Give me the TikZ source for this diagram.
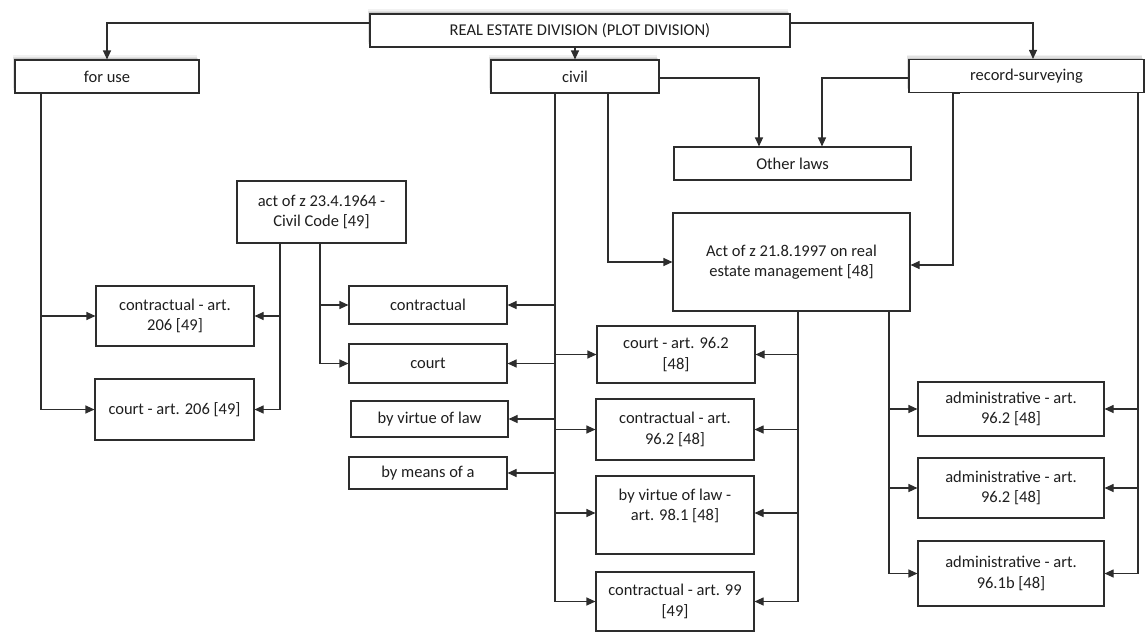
\documentclass[tikz,border=0pt]{standalone}
\usepackage{fontspec}
\setmainfont{Carlito}
\usetikzlibrary{arrows.meta,shadows,calc}
\definecolor{lncol}{RGB}{45,45,45}
\definecolor{txcol}{RGB}{30,30,30}
\begin{document}
\begin{tikzpicture}[x=1pt,y=-1pt,
  box/.style={draw=lncol, line width=1.1pt, fill=white, text=txcol, align=center, inner sep=0pt,
    font=\fontsize{16.5}{20.5}\selectfont},
  sh/.style={drop shadow={shadow xshift=-2.5pt,shadow yshift=5pt,opacity=.05,fill=black},
             drop shadow={shadow xshift=-1.8pt,shadow yshift=3.5pt,opacity=.07,fill=black},
             drop shadow={shadow xshift=-1pt,shadow yshift=2pt,opacity=.10,fill=black}},
  arr/.style={draw=lncol, line width=1.1pt, -{Triangle[length=9pt,width=8pt]}},
  wire/.style={draw=lncol, line width=1.1pt}]
\useasboundingbox (0,0) rectangle (1145,632);

% top level
\node[box,sh,minimum width=420pt,minimum height=33pt] (top) at (580,30.5) {REAL ESTATE DIVISION (PLOT DIVISION)};
\node[box,sh,minimum width=184pt,minimum height=33pt] (foruse) at (107,76.5) {for use};
\node[box,sh,minimum width=168pt,minimum height=33pt] (civil) at (575,76.5) {civil};
\node[box,sh,minimum width=235pt,minimum height=33pt] (record) at (1026.5,76) {record-surveying};

% laws
\node[box,minimum width=237pt,minimum height=33pt] (otherlaws) at (792.5,163.5) {Other laws};
\node[box,minimum width=169pt,minimum height=62pt] (civilcode) at (321.5,212) {act of z 23.4.1964 -\\Civil Code [49]};
\node[box,minimum width=237pt,minimum height=98pt] (act97) at (791.5,262) {Act of z 21.8.1997 on real\\estate management [48]};

% left column
\node[box,minimum width=158pt,minimum height=60pt] (c206) at (175,316) {contractual - art.\\206 [49]};
\node[box,minimum width=159pt,minimum height=61pt] (court206) at (174.5,409.5) {court - art. 206 [49]};

% civil code column
\node[box,minimum width=158pt,minimum height=38pt] (contractual) at (428,305) {contractual};
\node[box,minimum width=158pt,minimum height=39pt] (court) at (428,363.5) {court};
\node[box,minimum width=157pt,minimum height=36pt] (byvirtue) at (429.5,419) {by virtue of law};
\node[box,minimum width=158pt,minimum height=32pt] (bymeans) at (428,473) {by means of a};

% act 1997 column
\node[box,minimum width=158pt,minimum height=57pt] (court962) at (676,354.5) {court - art. 96.2\\{[48]}};
\node[box,minimum width=158pt,minimum height=61pt] (contr962) at (675,429.5) {contractual - art.\\96.2 [48]};
\node[box,minimum width=158pt,minimum height=78pt] (byv981) at (675,515) {by virtue of law -\\art. 98.1 [48]\\\mbox{}};
\node[box,minimum width=158pt,minimum height=59pt] (contr99) at (675,601.5) {contractual - art. 99\\{[49]}};

% administrative column
\node[box,minimum width=186pt,minimum height=54pt] (admin1) at (1011,409) {administrative - art.\\96.2 [48]};
\node[box,minimum width=186pt,minimum height=60pt] (admin2) at (1011,488) {administrative - art.\\96.2 [48]};
\node[box,minimum width=186pt,minimum height=65pt] (admin3) at (1011,573.5) {administrative - art.\\96.1b [48]};

% top connectors
\draw[arr] ([yshift=7.5pt]top.west) -| (foruse.north);
\draw[arr] (civil.north |- top.south) -- (civil.north);
\draw[arr] ([yshift=7.5pt]top.east) -| ([xshift=6.5pt]record.north);
\draw[arr] ([yshift=-1.5pt]civil.east) -| ([xshift=-33.5pt]otherlaws.north);
\draw[arr] ([yshift=-2pt]record.west) -| ([xshift=29.5pt]otherlaws.north);
\draw[arr] ([xshift=33pt]civil.south) |- (act97.west);
\draw[wire] ([xshift=-73.5pt]record.south) -- ([xshift=-66.5pt]record.south);
\draw[arr] ([xshift=-73.5pt]record.south) |- ([yshift=-3pt]act97.east);

% for use trunk
\coordinate (ft) at ([xshift=-66pt]foruse.south);
\draw[wire] (ft) -- (ft |- court206.west);
\draw[arr] (ft |- c206.west) -- (c206.west);
\draw[arr] (ft |- court206.west) -- (court206.west);

% civil code trunks
\coordinate (cc1) at ([xshift=-41.5pt]civilcode.south);
\coordinate (cc2) at ([xshift=-1.5pt]civilcode.south);
\draw[wire] (cc1) -- (cc1 |- court206.east);
\draw[arr] (cc1 |- c206.east) -- (c206.east);
\draw[arr] (cc1 |- court206.east) -- (court206.east);
\draw[wire] (cc2) -- (cc2 |- court.west);
\draw[arr] (cc2 |- contractual.west) -- (contractual.west);
\draw[arr] (cc2 |- court.west) -- (court.west);

% civil trunk
\coordinate (ct) at ([xshift=-20pt]civil.south);
\coordinate (b9w) at ([yshift=2pt]byv981.west);
\coordinate (b9e) at ([yshift=2pt]byv981.east);
\draw[wire] ([xshift=-33pt]civil.south) -- (ct) -- (ct |- contr99.west);
\foreach \n in {contractual,court,byvirtue,bymeans}
  \draw[arr] (ct |- \n.east) -- (\n.east);
\draw[arr] (ct |- court962.west) -- (court962.west);
\draw[arr] (ct |- contr962.west) -- (contr962.west);
\draw[arr] (ct |- b9w) -- (b9w);
\draw[arr] (ct |- contr99.west) -- (contr99.west);

% act 1997 trunks
\coordinate (a1) at ([xshift=6.5pt]act97.south);
\coordinate (a2) at ([xshift=97.5pt]act97.south);
\draw[wire] (a1) -- (a1 |- contr99.east);
\draw[arr] (a1 |- court962.east) -- (court962.east);
\draw[arr] (a1 |- contr962.east) -- (contr962.east);
\draw[arr] (a1 |- b9e) -- (b9e);
\draw[arr] (a1 |- contr99.east) -- (contr99.east);
\draw[wire] ([xshift=85.5pt]act97.south) -- (a2) -- (a2 |- admin3.west);
\foreach \n in {admin1,admin2,admin3}
  \draw[arr] (a2 |- \n.west) -- (\n.west);

% record trunk
\coordinate (rt) at ([xshift=111.5pt]record.south);
\draw[wire] (rt) -- (rt |- admin3.east);
\foreach \n in {admin1,admin2,admin3}
  \draw[arr] (rt |- \n.east) -- (\n.east);
\end{tikzpicture}
\end{document}
